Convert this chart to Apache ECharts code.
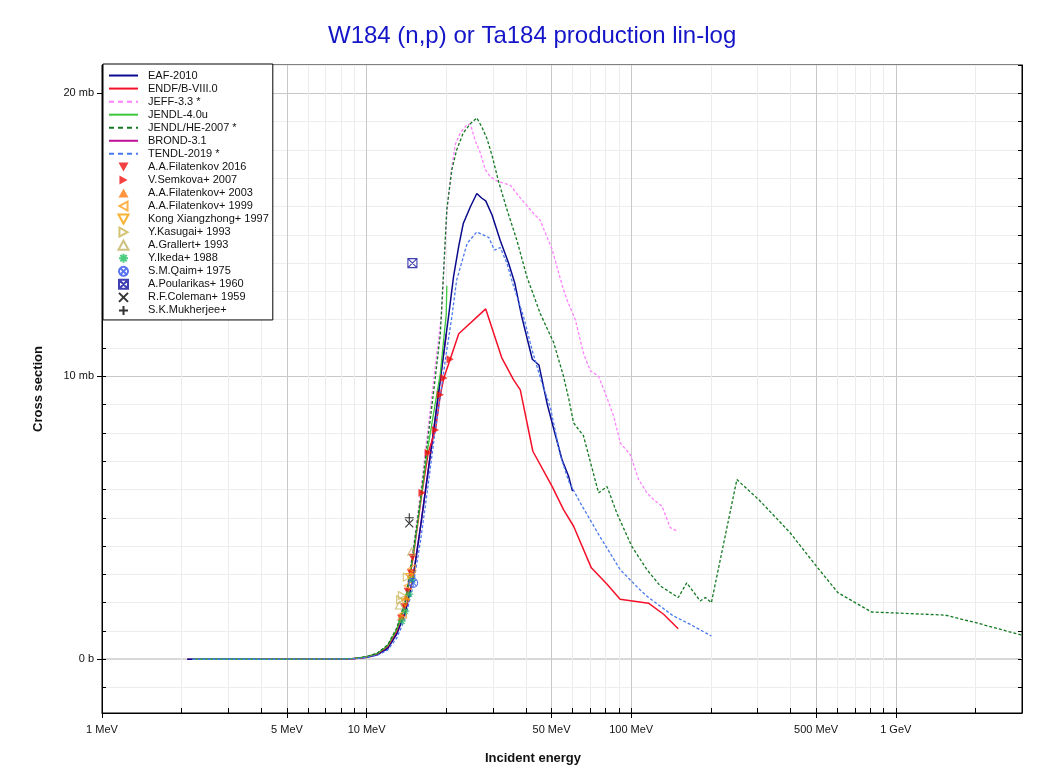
<!DOCTYPE html>
<html><head><meta charset="utf-8">
<script src="https://cdn.jsdelivr.net/npm/echarts@6/dist/echarts.min.js"></script>
<style>html,body{margin:0;padding:0;background:#fff}#c{width:1046px;height:774px}</style>
</head><body><div id="c"></div>
<script>
// ---------- texts / ticks ----------
const titleText = 'W184 (n,p) or Ta184 production lin-log';
const xName = 'Incident energy';
const yName = 'Cross section';
const xTickValues = [1,2,3,4,5,6,7,8,9,10,20,30,40,50,60,70,80,90,100,200,300,400,500,600,700,800,900,1000,2000];
const xMajorValues = [1,5,10,50,100,500,1000];
const xLabelText = {1:'1 MeV',5:'5 MeV',10:'10 MeV',50:'50 MeV',100:'100 MeV',500:'500 MeV',1000:'1 GeV'};
const yTickValues = [-1,0,1,2,3,4,5,6,7,8,9,10,11,12,13,14,15,16,17,18,19,20,21];
const yMajorValues = [10,20];
const yZeroValues = [0];
const yLabelText = {0:'0 b',10:'10 mb',20:'20 mb'};

// ---------- evaluated data (E in MeV, sigma in mb) ----------
const eaf2010 = [[2.1,0],[3,0],[4,0],[5,0],[6,0.001],[7,0.003],[8,0.008],[9,0.025],[10,0.07],[11,0.17],[12,0.38],[13,0.9],[14,1.65],[15,2.9],[16,4.7],[17,6.5],[18,8.2],[19,9.9],[20,11.5],[20.4,12.1],[21.3,13.5],[22.3,14.6],[23.2,15.4],[24.7,16.0],[26.1,16.46],[27.2,16.3],[28.2,16.2],[29.8,15.7],[32,14.8],[34.4,14.0],[36.3,13.3],[38.6,12.1],[42.3,10.6],[44.8,10.4],[48.2,9.0],[51.1,8.1],[54.8,7.05],[58,6.47],[60,5.94]];
const endf80 = [[4,0],[6,0.001],[8,0.008],[9,0.03],[10,0.08],[11,0.2],[12,0.45],[13,1.0],[14,1.95],[15,3.6],[15.3,4.2],[16.2,5.9],[17.1,7.3],[18.2,8.1],[19.0,9.35],[19.6,9.95],[20.7,10.6],[22.3,11.5],[28.2,12.38],[32.4,10.66],[35.9,9.88],[38.1,9.52],[42.5,7.35],[50.3,6.1],[55.5,5.29],[60.6,4.7],[70.7,3.23],[81.1,2.65],[90.8,2.12],[116.3,1.98],[132.6,1.59],[150.6,1.08]];
const jeff33 = [[2.2,0],[4,0],[6,0.001],[8,0.01],[9,0.03],[10,0.09],[11,0.22],[12,0.5],[13,1.1],[14,2.1],[15,3.9],[16,5.9],[17,8.0],[18,10.0],[19.2,12.2],[20.15,15.9],[21.0,17.4],[21.65,18.2],[22.6,18.6],[24.0,18.9],[24.7,18.9],[25.8,18.3],[26.9,17.9],[28.1,17.3],[29.4,17.05],[31.1,16.9],[34.9,16.75],[38.1,16.3],[42.8,15.75],[45.4,15.5],[46.7,15.2],[50.2,14.5],[54.9,13.2],[57.2,12.7],[61.5,12.0],[66.1,10.8],[70,10.2],[75.3,10.0],[79.8,9.4],[85.8,8.6],[91,7.64],[99.2,7.23],[106.7,6.35],[114.7,5.88],[121.5,5.64],[130.7,5.41],[140.5,4.65],[148.9,4.53]];
const jendl40u = [[2.2,0],[4,0],[6,0.001],[8,0.01],[9,0.03],[10,0.09],[11,0.21],[12,0.48],[13,1.05],[14,2.0],[15,3.7],[16,5.6],[17,7.4],[18,8.8],[19,10.1],[20,12.2],[20.1,13.2]];
const jendlhe2007 = [[2.2,0],[4,0],[6,0.001],[8,0.01],[9,0.03],[10,0.09],[11,0.22],[12,0.5],[13,1.1],[14,2.05],[15,3.8],[16,5.7],[17,7.7],[18,9.6],[19,11.5],[20.1,15.9],[21.0,17.3],[21.9,18.0],[23.2,18.6],[24.7,18.93],[26.1,19.13],[27.3,18.8],[28.5,18.4],[29.8,17.8],[31.5,16.9],[33.9,15.9],[37,14.8],[40.4,13.5],[45.4,12.2],[50.9,11.2],[55.5,10.0],[58.1,9.2],[60.6,8.35],[66,7.9],[75.3,5.88],[81.1,6.1],[88.2,5.17],[100.4,4.0],[114.6,3.17],[128.8,2.59],[150.6,2.18],[162.2,2.7],[182.2,2.06],[190.8,2.18],[201,2.0],[250.9,6.35],[303.6,5.64],[398.8,4.47],[501,3.29],[605,2.35],[810,1.67],[1535,1.56],[2010,1.29],[3000,0.85]];
const brond31 = [[2.1,0],[3,0],[4,0],[5,0],[6,0.001],[7,0.003],[8,0.008],[9,0.025],[10,0.07],[11,0.17],[12,0.38],[13,0.9],[14,1.65],[15,2.9],[16,4.7],[17,6.5],[18,8.2],[19,9.9],[20,11.5]];
const tendl2019 = [[2.2,0],[4,0],[6,0.001],[8,0.006],[9,0.02],[10,0.06],[11,0.14],[12,0.32],[13,0.75],[14,1.45],[15,2.6],[16,4.2],[17,6.0],[18,7.8],[19,9.3],[20,10.8],[21.0,12.1],[21.9,13.4],[24,14.7],[26.1,15.1],[29,14.9],[30.4,14.46],[32,14.55],[33.9,14.0],[35.9,13.2],[39.2,12.1],[42.3,10.9],[46,9.76],[49.5,8.9],[54,7.2],[58,6.3],[64.2,5.53],[76,4.35],[90.8,3.17],[107.5,2.47],[114.6,2.23],[144.4,1.53],[167.3,1.23],[201,0.82]];

// ---------- experimental data ----------
const filatenkov2016 = [[13.5,1.45],[13.9,1.85],[14.3,2.4],[14.7,3.05],[14.9,3.6]];
const semkova2007 = [[16.2,5.88],[17.1,7.3],[18.2,8.1],[19.0,9.35],[19.6,9.94],[20.7,10.6]];
const filatenkov2003 = [[13.5,1.5],[14.1,2.2],[14.7,3.0]];
const filatenkov1999 = [[13.7,1.6],[14.3,2.6],[14.8,3.2]];
const kong1997 = [[14.0,2.0],[14.6,2.9]];
const kasugai1993 = [[13.4,2.1],[13.6,2.25],[14.2,2.9]];
const grallert1993 = [[13.3,1.9],[14.8,3.8]];
const ikeda1988 = [[13.6,1.35],[14.0,1.7],[14.5,2.3],[14.9,2.8]];
const qaim1975 = [[15.0,2.7]];
const poularikas1960 = [[14.9,14.0]];
const coleman1959 = [[14.5,4.8]];
const mukherjee = [[14.5,5.0]];

// ---------- series styling ----------
const lineDefs = [
  {name:'EAF-2010', data:eaf2010, color:'#0a0a8c', type:'solid', width:1.5},
  {name:'ENDF/B-VIII.0', data:endf80, color:'#f5102a', type:'solid', width:1.5},
  {name:'JEFF-3.3 *', data:jeff33, color:'#ff80ff', type:[3,2], width:1.3},
  {name:'JENDL-4.0u', data:jendl40u, color:'#3cc83c', type:'solid', width:1.3},
  {name:'JENDL/HE-2007 *', data:jendlhe2007, color:'#137a23', type:[3,2], width:1.3},
  {name:'BROND-3.1', data:brond31, color:'#c0109a', type:'solid', width:1.5},
  {name:'TENDL-2019 *', data:tendl2019, color:'#4a78f0', type:[3,2], width:1.3}
];
const T_DOWN = 'path://M0,0L10,0L5,9Z';
const T_UP = 'path://M5,0L10,9L0,9Z';
const T_RIGHT = 'path://M0,0L9,5L0,10Z';
const T_LEFT = 'path://M9,0L0,5L9,10Z';
const P_ASTER = 'path://M5,0L5,10M0,5L10,5M1.5,1.5L8.5,8.5M8.5,1.5L1.5,8.5';
const P_CIRCX = 'path://M10,5A5,5,0,1,1,0,5A5,5,0,1,1,10,5ZM1.5,1.5L8.5,8.5M8.5,1.5L1.5,8.5';
const P_BOXX = 'path://M0,0L10,0L10,10L0,10ZM0,0L10,10M10,0L0,10';
const P_X = 'path://M0,0L10,10M10,0L0,10';
const P_PLUS = 'path://M5,0L5,10M0,5L10,5';
const expDefs = [
  {name:'A.A.Filatenkov 2016', data:filatenkov2016, symbol:T_DOWN, color:'#f01010', hollow:false, size:8},
  {name:'V.Semkova+ 2007', data:semkova2007, symbol:T_RIGHT, color:'#f01010', hollow:false, size:8},
  {name:'A.A.Filatenkov+ 2003', data:filatenkov2003, symbol:T_UP, color:'#ff7a10', hollow:false, size:8},
  {name:'A.A.Filatenkov+ 1999', data:filatenkov1999, symbol:T_LEFT, color:'#ffa020', hollow:true, size:8},
  {name:'Kong Xiangzhong+ 1997', data:kong1997, symbol:T_DOWN, color:'#f5a000', hollow:true, size:8},
  {name:'Y.Kasugai+ 1993', data:kasugai1993, symbol:T_RIGHT, color:'#c8b450', hollow:true, size:8},
  {name:'A.Grallert+ 1993', data:grallert1993, symbol:T_UP, color:'#c0b060', hollow:true, size:8},
  {name:'Y.Ikeda+ 1988', data:ikeda1988, symbol:P_ASTER, color:'#20c060', hollow:true, size:8},
  {name:'S.M.Qaim+ 1975', data:qaim1975, symbol:P_CIRCX, color:'#3050f0', hollow:true, size:9},
  {name:'A.Poularikas+ 1960', data:poularikas1960, symbol:P_BOXX, color:'#1010a0', hollow:true, size:9},
  {name:'R.F.Coleman+ 1959', data:coleman1959, symbol:P_X, color:'#000000', hollow:true, size:8},
  {name:'S.K.Mukherjee+', data:mukherjee, symbol:P_PLUS, color:'#000000', hollow:true, size:9}
];

const series = [];
lineDefs.forEach(d => {
  series.push({
    name: d.name, type: 'line', data: d.data, showSymbol: false, symbol: 'none',
    lineStyle: {color: d.color, width: d.width, type: d.type},
    itemStyle: {color: d.color}, z: d.name === 'BROND-3.1' ? 1 : 2,
    animation: false, silent: true
  });
});
expDefs.forEach(d => {
  series.push({
    name: d.name, type: 'scatter', data: d.data, symbol: d.symbol, symbolSize: d.size,
    symbolKeepAspect: true,
    itemStyle: d.hollow ? {color: 'rgba(255,255,255,0)', borderColor: d.color, borderWidth: 1.1}
                        : {color: d.color, borderWidth: 0},
    z: 5, animation: false, silent: true
  });
});

const legendData = lineDefs.map(d => ({
  name: d.name,
  itemStyle: {color: 'rgba(0,0,0,0)', borderColor: 'rgba(0,0,0,0)', borderWidth: 0, opacity: 0},
  lineStyle: {width: 2, type: Array.isArray(d.type) ? [5, 4] : 'solid'}
})).concat(expDefs.map(d => ({name: d.name})));

const xFmt = v => xLabelText[Math.round(v)] || '';
const yFmt = v => yLabelText[Math.round(v)] || '';
const FONT = 'Liberation Sans, Arial, sans-serif';

const option = {
  animation: false,
  backgroundColor: '#fff',
  textStyle: {fontFamily: FONT},
  title: {
    text: titleText, left: 328, top: 24, padding: 0,
    textStyle: {fontSize: 24, fontWeight: 'normal', color: '#1414c8', fontFamily: FONT}
  },
  grid: {left: 102, right: 24, top: 65, bottom: 61, show: true, borderColor: '#000', borderWidth: 1, backgroundColor: 'rgba(0,0,0,0)'},
  legend: {
    orient: 'vertical', left: 103, top: 64,
    backgroundColor: '#fff', borderColor: '#000', borderWidth: 1, borderRadius: 0,
    padding: [5, 4, 3, 5], itemWidth: 29, itemHeight: 9, itemGap: 0, itemTextGap: 10,
    symbolKeepAspect: true,
    textStyle: {fontSize: 11, color: '#111', lineHeight: 13.05, fontFamily: FONT, padding: [0, 0, 0, 5]},
    data: legendData,
    selectedMode: false
  },
  xAxis: [
    {
      type: 'log', logBase: 10, min: 1, max: 3000, position: 'bottom',
      name: xName, nameLocation: 'middle', nameGap: 39,
      nameTextStyle: {fontSize: 13, fontWeight: 'bold', color: '#111', padding: [0, 58, 0, 0]},
      axisLine: {show: true, onZero: false, lineStyle: {color: '#000', width: 1}},
      axisTick: {show: true, inside: true, length: 5, customValues: xTickValues, lineStyle: {color: '#000'}},
      axisLabel: {show: true, customValues: xMajorValues, formatter: xFmt, fontSize: 11, color: '#111', margin: 11},
      splitLine: {show: true, lineStyle: {color: '#ececec', width: 1}},
      minorTick: {show: false}, minorSplitLine: {show: false}
    },
    {
      type: 'log', logBase: 10, min: 1, max: 3000, position: 'bottom',
      axisLine: {show: false, onZero: false},
      axisTick: {show: true, inside: false, length: 5, customValues: xMajorValues, lineStyle: {color: '#000'}},
      axisLabel: {show: false},
      splitLine: {show: true, lineStyle: {color: '#c8c8c8', width: 1}}
    }
  ],
  yAxis: [
    {
      type: 'value', min: -1.9, max: 21, position: 'left',
      name: yName, nameLocation: 'middle', nameGap: 57, nameRotate: 90,
      nameTextStyle: {fontSize: 13, fontWeight: 'bold', color: '#111'},
      axisLine: {show: true, onZero: false, lineStyle: {color: '#000'}},
      axisTick: {show: true, inside: true, length: 4, customValues: yTickValues, lineStyle: {color: '#000'}},
      axisLabel: {show: true, customValues: [0, 10, 20], formatter: yFmt, fontSize: 11, color: '#111', margin: 8},
      splitLine: {show: true, lineStyle: {color: '#ededed', width: 1}}
    },
    {
      type: 'value', min: -1.9, max: 21, position: 'left',
      axisLine: {show: false, onZero: false},
      axisTick: {show: true, inside: false, length: 5, customValues: yMajorValues, lineStyle: {color: '#000'}},
      axisLabel: {show: false},
      splitLine: {show: true, lineStyle: {color: '#c8c8c8', width: 1}}
    },
    {
      type: 'value', min: -1.9, max: 21, position: 'left',
      axisLine: {show: false, onZero: false},
      axisTick: {show: true, inside: false, length: 5, customValues: yZeroValues, lineStyle: {color: '#000'}},
      axisLabel: {show: false},
      splitLine: {show: true, lineStyle: {color: '#d8d8d8', width: 2}}
    },
    {
      type: 'value', min: -1.9, max: 21, position: 'right',
      axisLine: {show: true, onZero: false, lineStyle: {color: '#000'}},
      axisTick: {show: true, inside: true, length: 4, customValues: yTickValues, lineStyle: {color: '#000'}},
      axisLabel: {show: false},
      splitLine: {show: false}
    }
  ],
  series: series
};
const chart = echarts.init(document.getElementById('c'), null, {renderer: 'canvas'});
chart.setOption(option);
</script>
</body></html>
